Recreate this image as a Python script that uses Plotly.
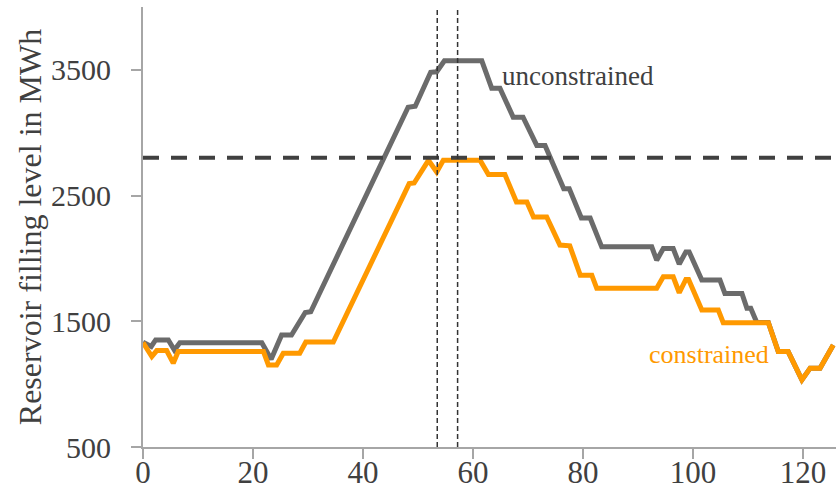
import plotly.graph_objects as go

# Unconstrained reservoir level (grey)
x_uncon = [0, 1.5, 2.3, 4.6, 5.7, 6.7, 21.6, 23.3, 25.2, 27, 29.5, 30.5, 48.2, 49.5, 52.3, 53.4,
           54.8, 61.6, 63.4, 64.9, 67.3, 69.1, 71.6, 73.1, 76.5, 77.5, 79.7, 81.3, 83.4, 92.5,
           93.4, 94.6, 96.4, 97.5, 98.7, 99.3, 101.6, 104.9, 105.8, 108.9, 109.8, 110.5, 111.6,
           113.7, 115.5, 117.3, 119.8, 121.3, 123.1, 125.5]
y_uncon = [1333, 1300, 1352, 1352, 1272, 1330, 1330, 1198, 1391, 1391, 1570, 1576, 3203, 3210, 3481, 3485,
           3572, 3572, 3354, 3354, 3124, 3124, 2899, 2899, 2555, 2555, 2322, 2322, 2092, 2092,
           1986, 2079, 2079, 1955, 2052, 2052, 1828, 1828, 1722, 1722, 1603, 1603, 1490,
           1490, 1259, 1259, 1034, 1127, 1127, 1312]

# Constrained reservoir level (orange)
x_con = [0, 1.6, 2.5, 4.3, 5.5, 6.4, 21.9, 22.8, 24.3, 25.5, 28.5, 29.6, 34.6, 48.4, 49.3, 51.9,
         53.4, 54.6, 61.3, 62.8, 65.8, 67.9, 69.8, 71.0, 73.4, 75.8, 77.6, 79.5, 81.6, 82.5,
         93.4, 94.6, 96.4, 97.5, 98.7, 99.2, 101.6, 104.6, 105.5, 113.7, 115.5, 117.3, 119.8,
         121.3, 123.1, 125.5]
y_con = [1330, 1219, 1267, 1267, 1167, 1259, 1259, 1153, 1153, 1246, 1246, 1335, 1335, 2595, 2600, 2780,
         2687, 2780, 2780, 2667, 2667, 2449, 2449, 2330, 2330, 2106, 2100, 1867, 1867, 1762,
         1762, 1854, 1854, 1727, 1833, 1833, 1590, 1590, 1489, 1489, 1259, 1259, 1034,
         1127, 1127, 1312]

limit_level = 2800
marker_x = [53.5, 57.2]

x_ticks = [0, 20, 40, 60, 80, 100, 120]
y_ticks = [500, 1500, 2500, 3500]

GREY = "#6b6b6b"
ORANGE = "#ff9900"
TEXT = "#404040"
AXIS = "#a6a6a6"
FONT = "Liberation Serif"

fig = go.Figure()
fig.add_trace(go.Scatter(x=x_uncon, y=y_uncon, mode="lines",
                         line=dict(color=GREY, width=5), showlegend=False))
fig.add_trace(go.Scatter(x=x_con, y=y_con, mode="lines",
                         line=dict(color=ORANGE, width=5), showlegend=False))

fig.add_shape(type="line", xref="paper", x0=0, x1=1, yref="y", y0=limit_level, y1=limit_level,
              line=dict(color="#404040", width=4, dash="16px,12px"), layer="above")
for mx in marker_x:
    fig.add_shape(type="line", xref="x", x0=mx, x1=mx, yref="paper", y0=0, y1=1,
                  line=dict(color="#333333", width=1.5, dash="5px,3px"), layer="above")

fig.add_annotation(x=64.9, y=3455, text="unconstrained", showarrow=False, xanchor="left",
                   font=dict(family=FONT, size=27, color=TEXT))
fig.add_annotation(x=91.6, y=1232, text="constrained", showarrow=False, xanchor="left",
                   font=dict(family=FONT, size=26, color=ORANGE))

fig.update_layout(
    width=836, height=501,
    margin=dict(l=143, r=0, t=7, b=54),
    paper_bgcolor="white", plot_bgcolor="white",
    font=dict(family=FONT, color=TEXT),
)
fig.update_xaxes(range=[0, 126], tickvals=x_ticks, showgrid=False, zeroline=False, automargin=False,
                 showline=True, linecolor=AXIS, linewidth=2, ticks="outside", ticklen=10,
                 tickcolor=AXIS, tickwidth=2, ticklabelstandoff=-13,
                 tickfont=dict(family=FONT, size=31, color=TEXT))
fig.update_yaxes(range=[500, 4000], tickvals=y_ticks, showgrid=False, zeroline=False, automargin=False,
                 showline=True, linecolor=AXIS, linewidth=2, ticks="outside", ticklen=10,
                 tickcolor=AXIS, tickwidth=2, ticklabelstandoff=14,
                 tickfont=dict(family=FONT, size=30, color=TEXT),
                 title=dict(text="Reservoir filling level in MWh", standoff=0,
                            font=dict(family=FONT, size=32, color=TEXT)))

fig.write_html("out.html", config={"displayModeBar": False},
               post_script="document.body.style.margin='0';document.body.style.overflow='hidden';")
